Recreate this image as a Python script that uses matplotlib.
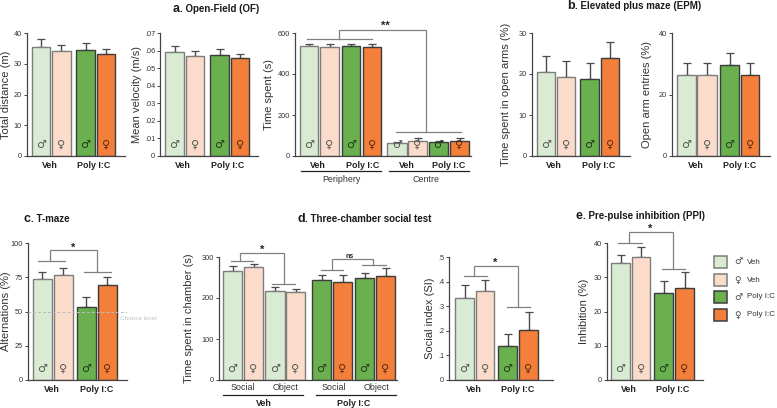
import matplotlib
matplotlib.use('Agg')
import matplotlib.pyplot as plt

W, H = 777, 408
plt.rcParams['font.family'] = ['Liberation Sans', 'DejaVu Sans']

# ---------- data ----------
total_distance = [35.5, 34.2, 34.6, 33.2]
total_distance_err = [2.5, 2.0, 2.3, 1.7]
mean_velocity = [.059, .057, .0577, .0555]
mean_velocity_err = [.0038, .003, .0033, .0027]
time_spent = [538, 530, 535, 530, 63, 73, 66, 73]
time_spent_err = [6, 14, 9, 14, 5, 15, 9, 15]
open_arm_time = [20.4, 19.2, 18.7, 23.9]
open_arm_time_err = [4.0, 4.0, 3.9, 3.9]
open_arm_entries = [26.2, 26.3, 29.6, 26.5]
open_arm_entries_err = [4.0, 3.9, 3.9, 3.7]
alternations = [73.5, 76.5, 53, 69.5]
alternations_err = [5, 5.5, 7.5, 5.5]
chamber_time = [265, 276, 218, 214, 243, 238, 250, 253]
chamber_time_err = [13, 8, 10, 9, 12, 19, 12, 21]
social_index = [.335, .362, .139, .205]
social_index_err = [.053, .043, .05, .071]
inhibition = [34.2, 35.9, 25.5, 27.0]
inhibition_err = [2.4, 3.0, 3.5, 4.5]
legend_labels = ['Veh', 'Veh', 'Poly I:C', 'Poly I:C']

# ---------- style ----------
FILLS = {'lg': '#d9ebd3', 'lp': '#fbdccb', 'g': '#6ab04f', 'o': '#f47f3a'}
EDGES = {'lg': '#7d7d7d', 'lp': '#7d7d7d', 'g': '#3c3c3c', 'o': '#3c3c3c'}
SYMBOL = {'lg': '♂', 'lp': '♀', 'g': '♂', 'o': '♀'}
SYMCOL = {'lg': '#555555', 'lp': '#555555', 'g': '#1f3a18', 'o': '#5a2a0c'}
STD = ['lg', 'lp', 'g', 'o']
BR = '#808080'
GROUP_SIZE = 6.4

fig = plt.figure(figsize=(W / 100, H / 100), dpi=100)
ov = fig.add_axes([0, 0, 1, 1], zorder=5)
ov.set_xlim(0, W); ov.set_ylim(H, 0); ov.axis('off'); ov.patch.set_alpha(0)


def T(x, y, s, size=5.5, bold=False, color='#222222', **kw):
    ov.text(x, y, s, fontsize=size, fontweight='bold' if bold else 'normal',
            color=color, ha=kw.pop('ha', 'center'), va=kw.pop('va', 'center'), **kw)


def panel(x0, x1, ytop, y0, ymax, ticks, labels, ylabel, vals, errs, spans, kinds, lab_x):
    ax = fig.add_axes([x0 / W, 1 - y0 / H, (x1 - x0) / W, (y0 - ytop) / H])
    ax.set_xlim(x0, x1); ax.set_ylim(0, ymax)
    for v, e, (a, b), k in zip(vals, errs, spans, kinds):
        c = (a + b) / 2
        ax.errorbar(c, v, yerr=[[0], [e]], color='#4a4a4a', lw=1.0, capsize=2.6, capthick=0.9, zorder=1)
        ax.bar(c, v, width=b - a, color=FILLS[k], edgecolor=EDGES[k], lw=1.0, zorder=2)
        ax.text(c, 0.09 * ymax * 123 / (y0 - ytop), SYMBOL[k], family='DejaVu Sans', fontsize=8,
                color=SYMCOL[k], ha='center', va='center', zorder=3)
    for s in ['top', 'right']:
        ax.spines[s].set_visible(False)
    for s in ['left', 'bottom']:
        ax.spines[s].set_color('#444444'); ax.spines[s].set_linewidth(0.9)
    ax.set_xticks([])
    ax.set_yticks(ticks); ax.set_yticklabels(labels, fontsize=5.3, color='#333333')
    ax.tick_params(axis='y', length=2, width=0.7, pad=1.5, color='#444444')
    T(lab_x, (ytop + y0) / 2, ylabel, size=8, rotation=90, color='#333333')
    return ax


def bracket(top_y, xl, xr, yl, l0, l1, yr, r0, r1, star, sx, sy, size=8):
    ov.plot([xl, xl, xr, xr], [yl, top_y, top_y, yr], color=BR, lw=0.9, solid_joinstyle='miter')
    ov.plot([l0, l1], [yl, yl], color=BR, lw=0.9)
    ov.plot([r0, r1], [yr, yr], color=BR, lw=0.9)
    T(sx, sy, star, size=size, bold=True)


# Row 1
panel(27, 125, 33, 156, 40, [0, 10, 20, 30, 40], ['0', '10', '20', '30', '40'],
      'Total distance (m)', total_distance, total_distance_err,
      [(32, 50), (52, 71), (76, 95), (97, 115)], STD, 6)
panel(160, 258, 33, 156, .07, [0, .01, .02, .03, .04, .05, .06, .07],
      ['0', '.01', '.02', '.03', '.04', '.05', '.06', '.07'],
      'Mean velocity (m/s)', mean_velocity, mean_velocity_err,
      [(165, 184), (186, 204), (210, 229), (231, 249)], STD, 137)
panel(295, 471, 33, 156, 600, [0, 200, 400, 600], ['0', '200', '400', '600'],
      'Time spent (s)', time_spent, time_spent_err,
      [(300, 318), (320, 339), (342, 360), (363, 381), (387, 407), (408, 427), (429, 448), (450, 469)],
      STD * 2, 269)
panel(532, 630, 33, 156, 30, [0, 10, 20, 30], ['0', '10', '20', '30'],
      'Time spent in open arms (%)', open_arm_time, open_arm_time_err,
      [(537, 555), (557, 575), (580, 599), (601, 619)], STD, 506)
panel(672, 770, 33, 156, 40, [0, 20, 40], ['0', '20', '40'],
      'Open arm entries (%)', open_arm_entries, open_arm_entries_err,
      [(677, 696), (697, 717), (720, 739), (741, 759)], STD, 647)

# Row 2
ax_c = panel(28, 127, 243, 380, 100, [0, 25, 50, 75, 100], ['0', '25', '50', '75', '100'],
             'Alternations (%)', alternations, alternations_err,
             [(33, 52), (54, 73), (77, 96), (98, 117)], STD, 6)
ax_c.axhline(50, color='#bdbdbd', lw=0.7, ls=(0, (3, 2)), zorder=4)
panel(219, 397, 257, 380, 300, [0, 100, 200, 300], ['0', '100', '200', '300'],
      'Time spent in chamber (s)', chamber_time, chamber_time_err,
      [(223, 242), (244, 263), (265, 285), (286, 305), (312, 331), (333, 352), (355, 374), (376, 395)],
      ['lg', 'lp', 'lg', 'lp', 'g', 'o', 'g', 'o'], 189)
panel(449, 553, 257, 380, .5, [0, .1, .2, .3, .4, .5], ['0', '.1', '.2', '.3', '.4', '.5'],
      'Social index (SI)', social_index, social_index_err,
      [(455, 474), (476, 494), (498, 517), (519, 538)], STD, 430)
panel(607, 703, 243, 380, 40, [0, 10, 20, 30, 40], ['0', '10', '20', '30', '40'],
      'Inhibition (%)', inhibition, inhibition_err,
      [(611, 630), (632, 650), (654, 673), (675, 694)], STD, 584)

# Group labels
for x, s in [(50, 'Veh'), (94, 'Poly I:C'), (183, 'Veh'), (228, 'Poly I:C'), (318, 'Veh'), (363, 'Poly I:C'),
             (407, 'Veh'), (449, 'Poly I:C'), (554, 'Veh'), (599, 'Poly I:C'), (696, 'Veh'), (740, 'Poly I:C')]:
    T(x, 165.5, s, size=GROUP_SIZE, bold=True)
for x, s in [(52, 'Veh'), (97, 'Poly I:C'), (474, 'Veh'), (518, 'Poly I:C'), (629, 'Veh'), (673, 'Poly I:C')]:
    T(x, 390, s, size=GROUP_SIZE, bold=True)
for x, s in [(243, 'Social'), (286, 'Object'), (334, 'Social'), (377, 'Object')]:
    T(x, 388, s, size=GROUP_SIZE, color='#333333')
T(264, 403, 'Veh', size=GROUP_SIZE, bold=True); T(354, 403, 'Poly I:C', size=GROUP_SIZE, bold=True)
T(341, 180, 'Periphery', size=GROUP_SIZE, color='#333333'); T(426, 180, 'Centre', size=GROUP_SIZE, color='#333333')
for a, b, y in [(301, 381, 171), (389, 469, 171), (223, 303, 395), (316, 396, 395)]:
    ov.plot([a, b], [y, y], color='#222222', lw=0.9)
T(138, 319, 'Chance level', size=4.6, color='#c4c4c4')

# Titles
for x, y, head, rest in [(173, 9, 'a', '. Open-Field (OF)'), (567, 6, 'b', '. Elevated plus maze (EPM)'),
                         (24, 219, 'c', '. T-maze'), (297, 219, 'd', '. Three-chamber social test'),
                         (576, 216, 'e', '. Pre-pulse inhibition (PPI)')]:
    t = ov.text(x, y, head, fontsize=9, fontweight='bold', color='#1a1a1a', ha='left', va='center')
    fig.canvas.draw()
    bb = t.get_window_extent()
    T(bb.x1 + 0.3, y, rest, size=7.0, bold=True, ha='left', color='#1a1a1a')

# Brackets
bracket(30, 339, 426, 39, 307, 372, 132, 396, 461, '**', 385, 26)
bracket(250, 50, 97, 261, 38, 65, 272, 84, 111, '*', 73, 248)
bracket(253, 240, 284, 261, 231, 253, 284, 272, 295, '*', 262, 250)
bracket(259, 332, 373, 270, 321, 343, 265, 362, 386, 'ns', 350, 256.5, size=5)
bracket(266, 474, 518, 276, 464, 487, 307, 507, 530, '*', 495, 263)
bracket(232, 629, 673, 243, 618, 642, 269, 662, 685, '*', 650, 229)

# Legend
for (a, b), k, lab in zip([(256, 268), (274, 286), (291, 303), (309, 321)], STD, legend_labels):
    ov.add_patch(plt.Rectangle((714, a), 13, b - a, fc=FILLS[k], ec=EDGES[k], lw=1.1))
    c = (a + b) / 2
    ov.text(738, c, SYMBOL[k], family='DejaVu Sans', fontsize=6.5, color='#444444', ha='center', va='center')
    T(747, c, lab, size=5.8, color='#333333', ha='left')

fig.savefig('out.png', dpi=100)
